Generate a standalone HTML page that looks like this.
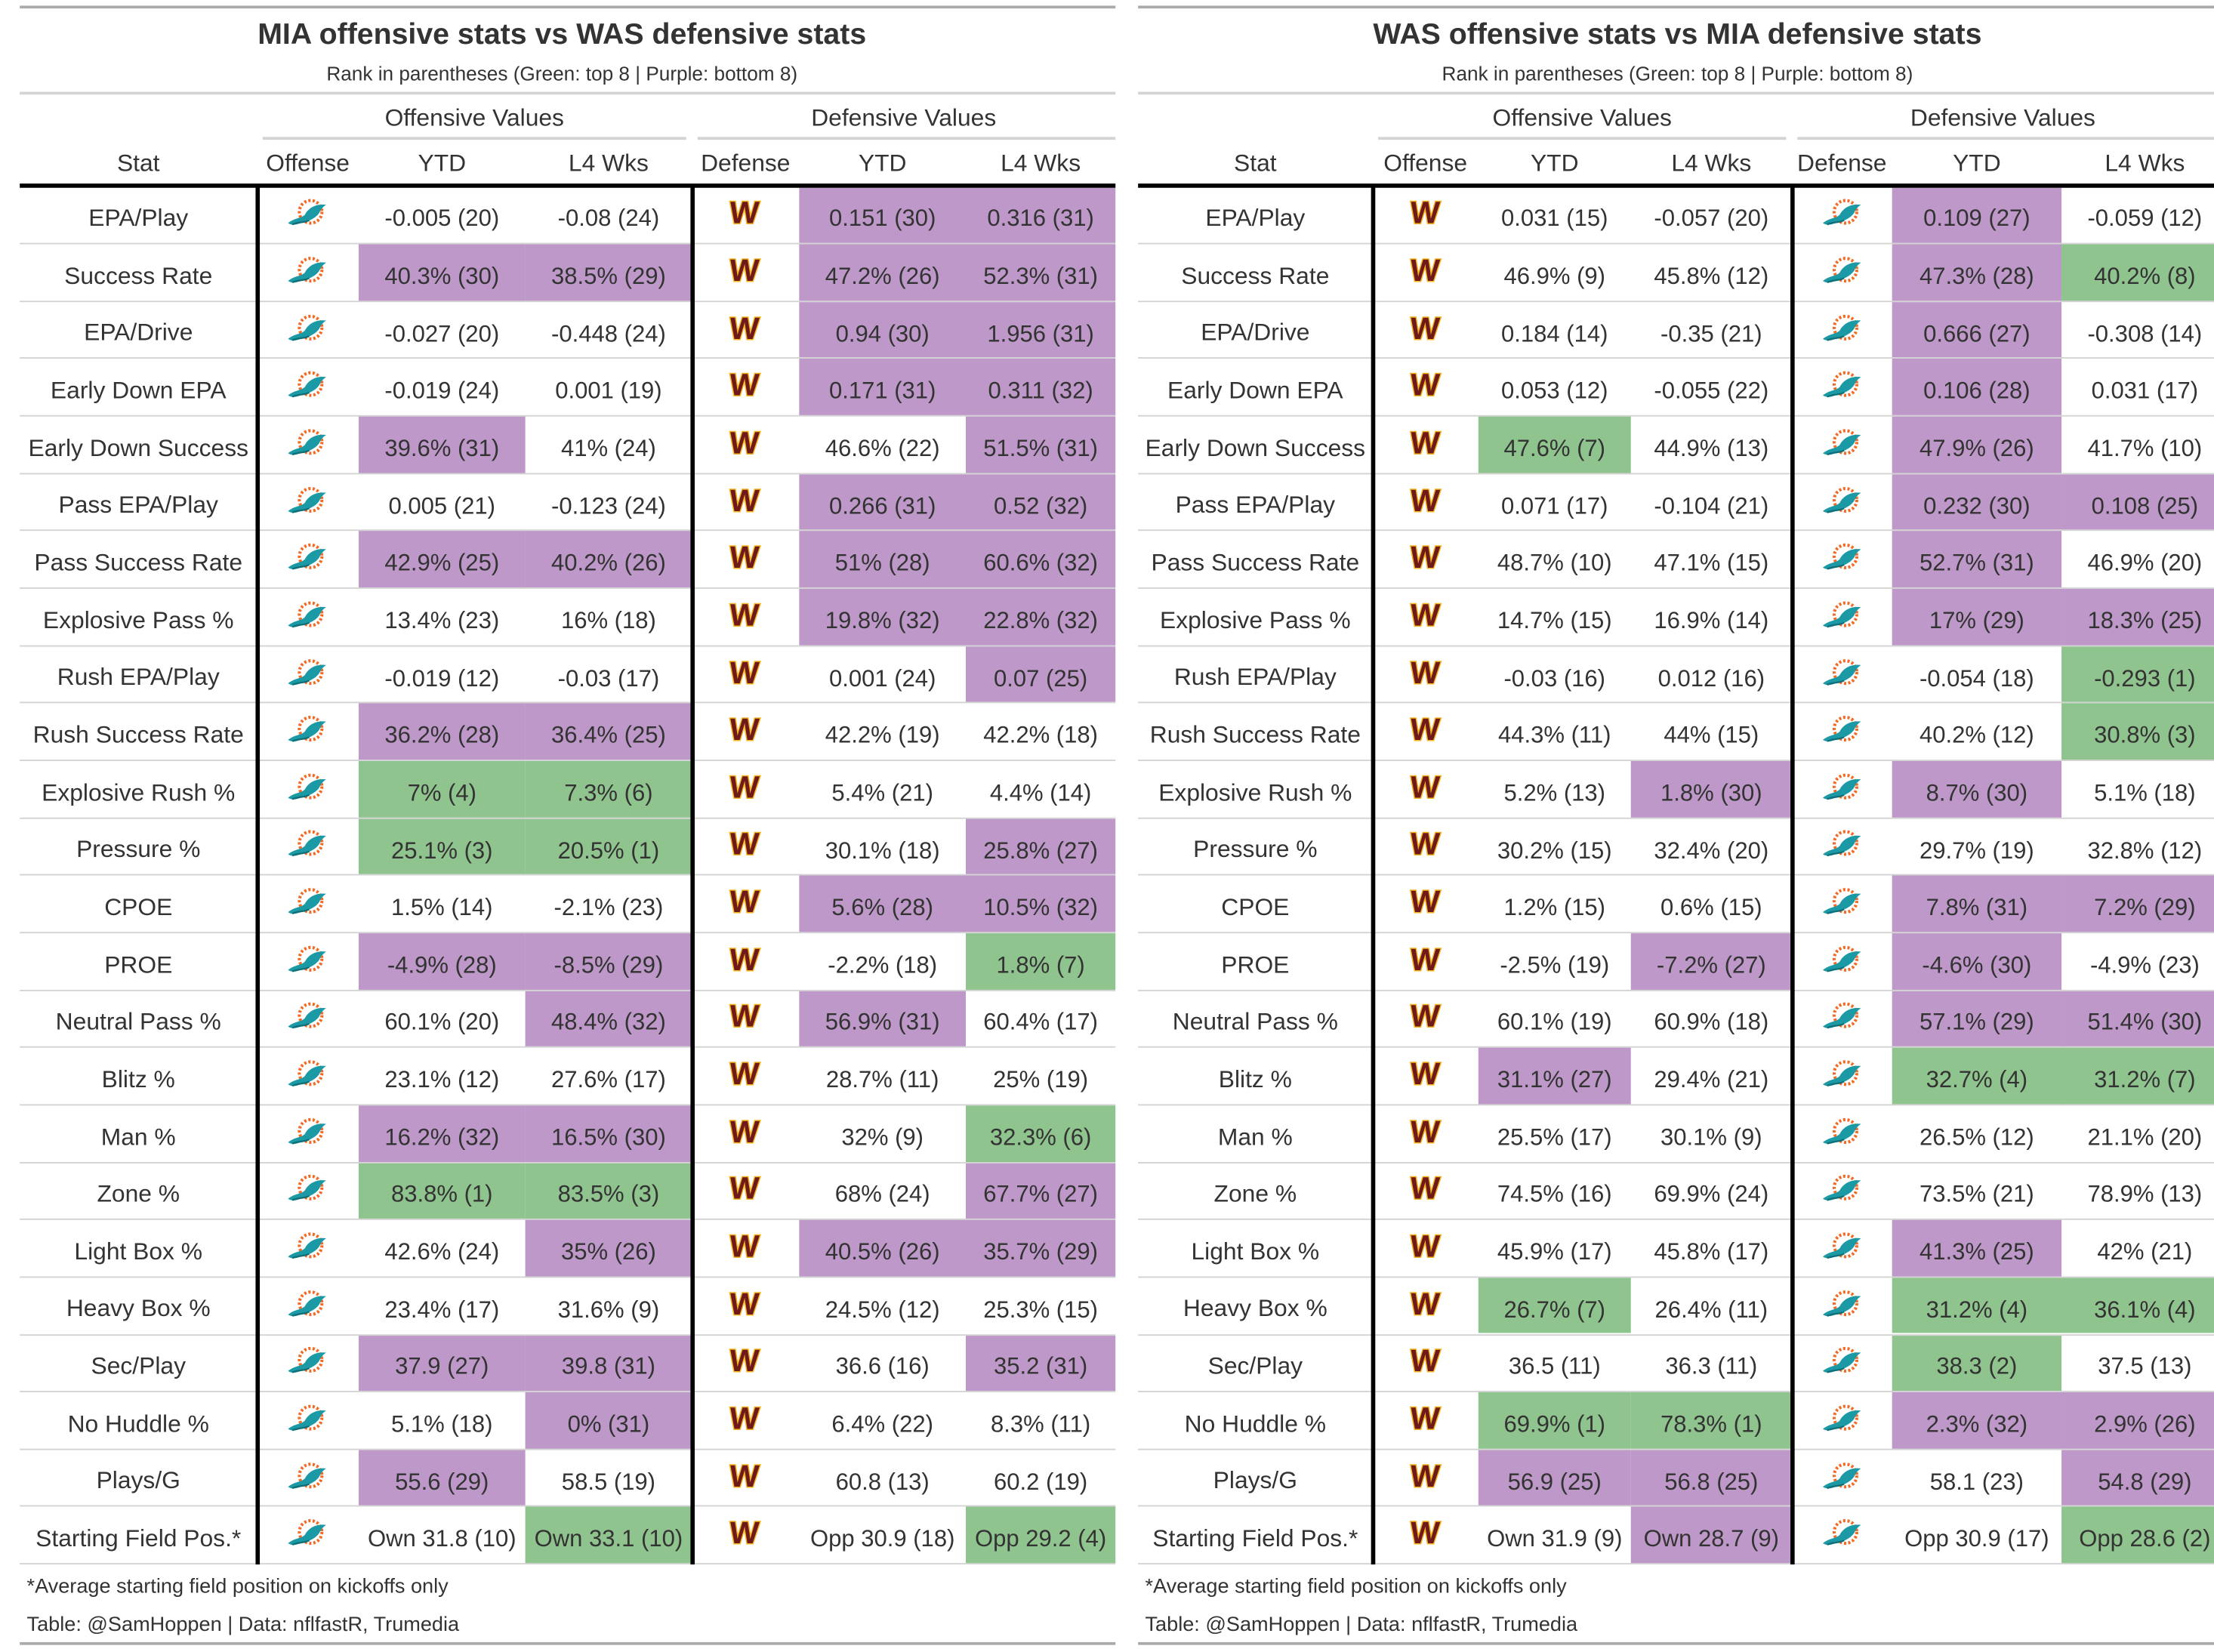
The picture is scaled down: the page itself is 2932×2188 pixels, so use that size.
<!DOCTYPE html>
<html><head><meta charset="utf-8">
<style>
html,body{margin:0;padding:0;background:#fff;}
body{width:2932px;height:2188px;overflow:hidden;position:relative;}
#stage{position:absolute;left:0;top:0;width:1568px;height:1170px;transform:scale(1.8699,1.8701);transform-origin:0 0;font-family:"Liberation Sans",sans-serif;color:#333;}
.abs{position:absolute;}
.t{position:absolute;text-align:center;white-space:nowrap;font-size:17px;color:#333;}
</style></head><body>
<div id="stage"></div>
<script>
const stats=["EPA/Play","Success Rate","EPA/Drive","Early Down EPA","Early Down Success","Pass EPA/Play","Pass Success Rate","Explosive Pass %","Rush EPA/Play","Rush Success Rate","Explosive Rush %","Pressure %","CPOE","PROE","Neutral Pass %","Blitz %","Man %","Zone %","Light Box %","Heavy Box %","Sec/Play","No Huddle %","Plays/G","Starting Field Pos.*"];
const leftOffYTD=["-0.005 (20)","40.3% (30)|p","-0.027 (20)","-0.019 (24)","39.6% (31)|p","0.005 (21)","42.9% (25)|p","13.4% (23)","-0.019 (12)","36.2% (28)|p","7% (4)|g","25.1% (3)|g","1.5% (14)","-4.9% (28)|p","60.1% (20)","23.1% (12)","16.2% (32)|p","83.8% (1)|g","42.6% (24)","23.4% (17)","37.9 (27)|p","5.1% (18)","55.6 (29)|p","Own 31.8 (10)"];
const leftOffL4=["-0.08 (24)","38.5% (29)|p","-0.448 (24)","0.001 (19)","41% (24)","-0.123 (24)","40.2% (26)|p","16% (18)","-0.03 (17)","36.4% (25)|p","7.3% (6)|g","20.5% (1)|g","-2.1% (23)","-8.5% (29)|p","48.4% (32)|p","27.6% (17)","16.5% (30)|p","83.5% (3)|g","35% (26)|p","31.6% (9)","39.8 (31)|p","0% (31)|p","58.5 (19)","Own 33.1 (10)|g"];
const leftDefYTD=["0.151 (30)|p","47.2% (26)|p","0.94 (30)|p","0.171 (31)|p","46.6% (22)","0.266 (31)|p","51% (28)|p","19.8% (32)|p","0.001 (24)","42.2% (19)","5.4% (21)","30.1% (18)","5.6% (28)|p","-2.2% (18)","56.9% (31)|p","28.7% (11)","32% (9)","68% (24)","40.5% (26)|p","24.5% (12)","36.6 (16)","6.4% (22)","60.8 (13)","Opp 30.9 (18)"];
const leftDefL4=["0.316 (31)|p","52.3% (31)|p","1.956 (31)|p","0.311 (32)|p","51.5% (31)|p","0.52 (32)|p","60.6% (32)|p","22.8% (32)|p","0.07 (25)|p","42.2% (18)","4.4% (14)","25.8% (27)|p","10.5% (32)|p","1.8% (7)|g","60.4% (17)","25% (19)","32.3% (6)|g","67.7% (27)|p","35.7% (29)|p","25.3% (15)","35.2 (31)|p","8.3% (11)","60.2 (19)","Opp 29.2 (4)|g"];
const rightOffYTD=["0.031 (15)","46.9% (9)","0.184 (14)","0.053 (12)","47.6% (7)|g","0.071 (17)","48.7% (10)","14.7% (15)","-0.03 (16)","44.3% (11)","5.2% (13)","30.2% (15)","1.2% (15)","-2.5% (19)","60.1% (19)","31.1% (27)|p","25.5% (17)","74.5% (16)","45.9% (17)","26.7% (7)|g","36.5 (11)","69.9% (1)|g","56.9 (25)|p","Own 31.9 (9)"];
const rightOffL4=["-0.057 (20)","45.8% (12)","-0.35 (21)","-0.055 (22)","44.9% (13)","-0.104 (21)","47.1% (15)","16.9% (14)","0.012 (16)","44% (15)","1.8% (30)|p","32.4% (20)","0.6% (15)","-7.2% (27)|p","60.9% (18)","29.4% (21)","30.1% (9)","69.9% (24)","45.8% (17)","26.4% (11)","36.3 (11)","78.3% (1)|g","56.8 (25)|p","Own 28.7 (9)|p"];
const rightDefYTD=["0.109 (27)|p","47.3% (28)|p","0.666 (27)|p","0.106 (28)|p","47.9% (26)|p","0.232 (30)|p","52.7% (31)|p","17% (29)|p","-0.054 (18)","40.2% (12)","8.7% (30)|p","29.7% (19)","7.8% (31)|p","-4.6% (30)|p","57.1% (29)|p","32.7% (4)|g","26.5% (12)","73.5% (21)","41.3% (25)|p","31.2% (4)|g","38.3 (2)|g","2.3% (32)|p","58.1 (23)","Opp 30.9 (17)"];
const rightDefL4=["-0.059 (12)","40.2% (8)|g","-0.308 (14)","0.031 (17)","41.7% (10)","0.108 (25)|p","46.9% (20)","18.3% (25)|p","-0.293 (1)|g","30.8% (3)|g","5.1% (18)","32.8% (12)","7.2% (29)|p","-4.9% (23)","51.4% (30)|p","31.2% (7)|g","21.1% (20)","78.9% (13)","42% (21)","36.1% (4)|g","37.5 (13)","2.9% (26)|p","54.8 (29)|p","Opp 28.6 (2)|g"];

const COL={p:"#bd98c8",g:"#90c48e"};
const stage=document.getElementById('stage');
const ROW0=132, RH=40.65;

function box(x,y,w,h,bg,name){const d=document.createElement('div');d.className='abs';d.style.cssText=`left:${x}px;top:${y}px;width:${w}px;height:${h}px;background:${bg};`;


stage.appendChild(d);return d;}
function txt(s,cx,cy,size,weight,name,w){const d=document.createElement('div');d.className='t';w=w||300;d.style.left=(cx-w/2)+'px';d.style.width=w+'px';d.style.top=(cy-size*0.6)+'px';d.style.fontSize=size+'px';d.style.lineHeight=(size*1.2)+'px';if(weight)d.style.fontWeight=weight;d.textContent=s;


stage.appendChild(d);return d;}

const dolphin=`<svg width="34" height="28" viewBox="0 0 34 28"><circle cx="19" cy="12" r="8" fill="none" stroke="#f26a24" stroke-width="2.2" stroke-dasharray="1.6 1.4"/><circle cx="19" cy="12" r="6" fill="#fff"/><path d="M3 20 C8 16 12 17 15 14 C17 10 22 6 30 7 C27 9 26 11 25 13 C22 17 17 19 12 20 C9 21 6 22 3 20 Z" fill="#1b9aa5"/><path d="M6 21 C10 19 14 20 18 18" stroke="#0e6f78" stroke-width="1.2" fill="none"/></svg>`;
const wlogo=`<svg width="34" height="26" viewBox="0 0 34 26"><text x="17" y="20" text-anchor="middle" font-family="Liberation Sans,sans-serif" font-weight="bold" font-size="22" fill="#6e1a1a" stroke="#f5b520" stroke-width="1.6" paint-order="stroke" transform="skewX(-4)">W</text></svg>`;
function logo(svg,cx,cy,name){const d=document.createElement('div');d.className='abs';d.style.left=(cx-17)+'px';d.style.top=(cy-15)+'px';d.innerHTML=svg;


stage.appendChild(d);}

function table(xs,title,offLogo,defLogo,cols,side){
  const x0=xs[0],x1=xs[7];
  box(x0,4,Math.min(x1,1568)-x0,2,'#aaa',side+'-top-rule');
  txt(title,(x0+x1-8)/2,25,21,'bold',side+'-title',760);
  txt('Rank in parentheses (Green: top 8 | Purple: bottom 8)',(x0+x1-8)/2,52,14,null,side+'-subtitle',760);
  box(x0,65,Math.min(x1,1568)-x0,2,'#d3d3d3',side+'-subtitle-rule');
  txt('Offensive Values',(xs[1]+xs[4])/2,84,17,null,side+'-offense-spanner');
  box(xs[1]+4,97,xs[4]-xs[1]-8,2,'#d3d3d3',side+'-offense-spanner-rule');
  txt('Defensive Values',(xs[4]+Math.min(xs[7],1568))/2,84,17,null,side+'-defense-spanner');
  box(xs[4]+4,97,Math.min(xs[7],1568)-xs[4]-4,2,'#d3d3d3',side+'-defense-spanner-rule');
  const heads=['Stat','Offense','YTD','L4 Wks','Defense','YTD','L4 Wks'];
  heads.forEach((h,i)=>txt(h,(xs[i]+xs[i+1])/2,116,17,null,side+'-col-header-'+i,140));
  for(let r=0;r<stats.length;r++){
    const y=ROW0+r*RH, cy=y+RH/2+3;
    box(x0,y+RH-0.5,Math.min(x1,1568)-x0,1,'#d3d3d3',side+'-row-rule');
    txt(stats[r],(xs[0]+xs[1])/2,cy,17,null,side+'-stat-label',170);
    logo(offLogo,(xs[1]+xs[2])/2,cy-2,side+'-offense-logo');
    logo(defLogo,(xs[4]+xs[5])/2,cy-2,side+'-defense-logo');
    [[cols[0],2],[cols[1],3],[cols[2],5],[cols[3],6]].forEach(([arr,ci])=>{
      const [v,c]=arr[r].split('|');
      if(c) box(xs[ci],y+0.5,xs[ci+1]-xs[ci],RH-1,COL[c],side+'-cell-highlight');
      txt(v,(xs[ci]+xs[ci+1])/2,cy,16.6,null,side+'-cell-value',140);
    });
  }
  box(x0,130,Math.min(x1,1568)-x0,3,'#000',side+'-header-rule');
  const bot=ROW0+stats.length*RH;
  box(xs[1]-1,131,2.5,bot-131,'#000',side+'-divider-offense');
  box(xs[4]-1,131,2.5,bot-131,'#000',side+'-divider-defense');
  const fn=txt('*Average starting field position on kickoffs only',0,1125,14.5,null,side+'-footnote',500);fn.style.left=(x0+5)+'px';fn.style.textAlign='left';
  const src=txt('Table: @SamHoppen | Data: nflfastR, Trumedia',0,1152,14.5,null,side+'-source',500);src.style.left=(x0+5)+'px';src.style.textAlign='left';
  box(x0,1163,Math.min(x1,1568)-x0,2,'#aaa',side+'-bottom-rule');
}
table([14,182,254,372,490,566,684,790],'MIA offensive stats vs WAS defensive stats',dolphin,wlogo,[leftOffYTD,leftOffL4,leftDefYTD,leftDefL4],'left');
table([806,972,1047,1155,1269,1340,1460,1578],'WAS offensive stats vs MIA defensive stats',wlogo,dolphin,[rightOffYTD,rightOffL4,rightDefYTD,rightDefL4],'right');
</script>
</body></html>
